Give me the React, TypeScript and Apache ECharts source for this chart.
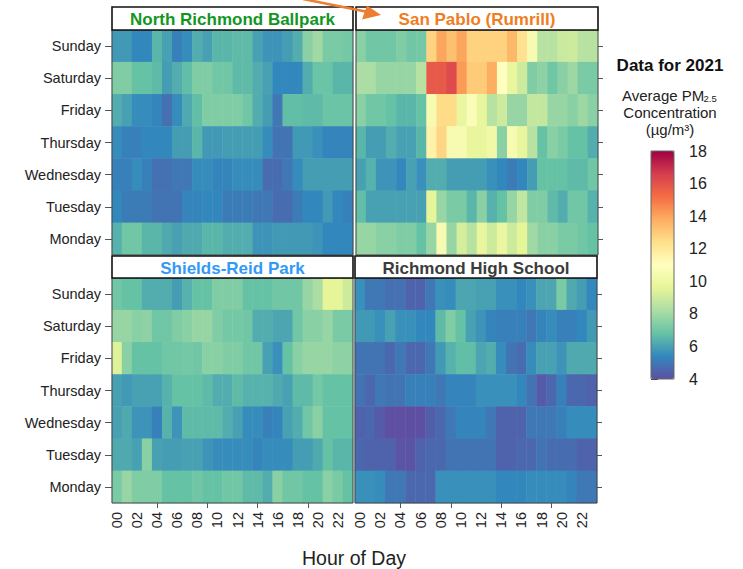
import React, { useEffect, useRef } from "react";
import * as echarts from "echarts";

const hours = ["00","01","02","03","04","05","06","07","08","09","10","11","12","13","14","15","16","17","18","19","20","21","22","23"];
// bottom-to-top order for the category y axis
const days = ["Monday","Tuesday","Wednesday","Thursday","Friday","Saturday","Sunday"];

// Rows are listed top-to-bottom as pictured: Sunday ... Monday
const northRichmond: number[][] = [
  [5.8,5.8,5.4,5.4,6.5,6.0,5.2,5.5,6.3,6.0,6.5,6.5,6.6,6.6,6.0,5.7,5.7,5.9,6.3,7.5,8.0,7.2,7.2,7.1],
  [7.3,7.3,6.8,6.8,6.6,5.9,6.3,6.7,7.3,7.3,7.0,7.0,6.6,6.6,6.3,6.0,5.4,5.4,5.4,6.3,6.9,6.9,6.5,6.5],
  [6.3,6.0,5.5,5.5,5.3,4.8,5.5,6.2,6.7,7.3,7.3,7.3,7.3,7.0,6.3,5.9,5.0,6.7,6.7,6.6,6.6,6.9,6.9,6.9],
  [5.5,5.2,5.2,5.4,5.4,5.4,5.9,5.9,6.5,5.8,5.8,5.9,5.9,5.9,5.9,5.5,4.9,4.9,5.8,5.8,5.6,5.3,5.3,5.3],
  [5.2,5.2,5.5,5.2,4.8,4.8,5.0,5.0,5.5,5.5,5.3,5.3,5.5,5.5,5.5,4.7,4.7,5.0,5.5,5.9,5.9,5.9,5.9,5.9],
  [5.4,5.1,5.1,5.1,4.9,4.9,4.9,5.3,5.3,5.4,5.4,5.1,5.1,5.1,5.0,5.0,4.7,4.7,5.1,5.4,5.4,5.8,5.4,5.2],
  [6.4,7.0,7.0,6.5,6.5,6.2,6.0,6.2,6.2,6.5,6.5,6.3,6.3,6.3,5.7,5.7,5.8,5.8,5.8,5.8,5.7,5.4,5.4,5.4],
];
const sanPablo: number[][] = [
  [7.5,7.0,7.0,7.0,7.3,7.0,7.1,12.8,14.0,13.3,14.0,12.8,12.8,12.8,12.8,13.5,12.3,10.5,8.5,8.5,8.9,9.0,8.5,8.5],
  [8.2,8.2,7.8,7.8,7.8,7.8,8.5,15.8,15.8,16.2,14.2,13.0,13.0,13.8,11.0,9.8,9.0,7.3,7.6,7.0,7.5,7.9,7.2,7.2],
  [7.5,7.0,7.0,6.8,6.5,6.5,6.8,10.5,12.5,12.5,9.9,10.7,9.8,8.5,9.0,7.8,7.8,8.8,8.8,7.8,7.8,7.5,7.9,7.5],
  [6.5,5.9,5.9,6.3,6.0,6.0,6.5,11.6,12.7,10.5,10.5,9.8,9.8,10.2,7.5,10.5,9.8,8.5,6.8,7.5,7.2,6.8,6.8,6.3],
  [6.0,6.4,5.7,5.7,5.4,6.0,5.6,6.3,6.3,5.9,5.9,5.9,5.9,5.6,5.4,5.1,5.4,5.9,6.8,6.8,6.8,6.6,6.6,7.0],
  [6.7,6.0,6.0,6.0,6.0,6.0,6.0,9.6,7.8,7.2,7.2,6.5,7.5,6.4,6.8,7.8,8.7,7.3,7.3,6.6,6.3,7.0,7.0,6.4],
  [7.8,7.8,7.5,7.5,7.3,7.3,6.8,7.8,10.5,7.8,9.2,8.5,9.8,9.0,9.9,9.0,9.6,8.0,7.5,7.5,7.2,7.2,7.0,6.8],
];
const shieldsReid: number[][] = [
  [7.0,6.8,6.8,6.3,6.3,6.3,5.9,6.4,6.8,6.8,7.3,7.3,7.3,6.8,6.8,6.8,7.0,7.0,7.0,7.8,8.2,9.6,9.6,9.0],
  [7.8,7.8,7.5,7.6,7.0,7.0,7.3,7.5,7.8,7.8,7.3,7.1,7.1,7.0,6.3,6.3,6.1,6.1,7.0,7.5,7.5,7.8,7.2,7.2],
  [9.4,7.5,6.8,6.8,6.8,7.0,7.0,7.1,7.0,7.5,7.5,7.3,7.3,7.0,7.0,6.0,5.6,6.8,7.5,7.8,7.8,7.8,7.6,7.6],
  [6.0,5.8,6.0,6.0,6.0,6.4,6.8,6.8,6.8,6.6,6.3,6.3,6.6,6.4,6.4,6.4,6.2,6.0,6.6,6.6,7.1,6.8,6.8,6.8],
  [6.0,6.2,5.7,5.7,5.2,6.4,5.7,6.6,6.6,6.6,6.6,6.3,6.0,5.5,5.5,5.2,5.3,6.0,6.3,7.0,7.5,6.8,6.8,6.8],
  [6.2,6.2,6.0,7.5,6.0,5.9,5.9,6.0,6.0,5.7,5.5,5.5,5.5,5.5,5.3,5.5,5.5,5.5,5.9,5.9,6.2,6.8,6.5,6.5],
  [7.2,7.8,7.3,7.3,7.3,6.8,6.8,6.8,7.0,6.8,6.8,7.0,7.0,6.6,6.6,6.3,7.5,7.0,7.0,6.8,6.8,7.5,7.2,6.8],
];
const richmondHigh: number[][] = [
  [5.6,5.0,5.0,4.8,4.8,4.5,4.5,5.0,5.6,5.5,6.1,6.1,6.0,6.0,5.6,5.6,5.4,5.6,6.1,6.1,7.2,6.2,5.9,5.4],
  [5.8,5.8,5.6,6.0,5.6,5.6,5.4,5.4,6.6,7.3,6.8,6.0,5.7,5.3,5.2,5.2,5.2,5.0,5.3,5.5,5.2,5.2,5.4,5.8],
  [4.9,4.9,4.9,4.6,5.0,4.6,4.6,5.0,5.8,6.4,6.7,6.7,6.1,6.3,5.5,4.9,4.7,5.5,6.0,6.0,5.7,6.2,6.2,6.2],
  [4.9,4.6,5.0,4.9,4.9,5.2,5.2,5.2,5.0,5.3,5.3,5.3,5.6,5.6,5.6,5.6,5.4,4.9,4.3,4.6,5.2,4.6,4.6,4.5],
  [4.5,4.6,4.3,4.0,4.0,4.0,4.0,4.4,4.6,5.0,5.3,5.3,5.3,5.0,4.5,4.5,4.5,5.0,5.0,5.0,5.2,5.5,5.5,5.5],
  [4.6,4.5,4.5,4.5,4.1,4.1,4.5,4.6,4.6,4.9,4.9,4.9,4.9,4.9,4.5,4.5,4.6,4.6,4.9,4.7,4.7,4.7,4.5,4.5],
  [5.6,5.6,5.5,5.0,5.0,4.6,4.6,4.6,5.6,5.6,5.6,5.6,5.6,5.6,5.4,5.4,5.4,5.5,5.5,5.5,5.5,5.3,5.0,5.0],
];

const panelTitles = ["North Richmond Ballpark", "San Pablo (Rumrill)", "Shields-Reid Park", "Richmond High School"];
const panelTitleColors = ["#13961f", "#ef7d22", "#3399f7", "#3c3c3c"];
const panelData = [northRichmond, sanPablo, shieldsReid, richmondHigh];

const spectralRev = ["#5e4fa2","#3288bd","#66c2a5","#abdda4","#e6f598","#ffffbf","#fee08b","#fdae61","#f46d43","#d53e4f","#9e0142"];

const FONT = "'Liberation Sans', Arial, sans-serif";

const grids = [
  { left: 112, top: 30, width: 241, height: 225 },
  { left: 356, top: 30, width: 242, height: 225 },
  { left: 112, top: 278, width: 241, height: 225 },
  { left: 355, top: 278, width: 242, height: 225 },
];

function toSeriesData(rows: number[][]) {
  const out: number[][] = [];
  rows.forEach((row, r) => {
    const dayIdx = 6 - r;
    row.forEach((v, h) => out.push([h, dayIdx, v]));
  });
  return out;
}

export default function App() {
  const ref = useRef<HTMLDivElement>(null);
  useEffect(() => {
    if (!ref.current) return;
    const chart = echarts.init(ref.current, undefined, { renderer: "svg" });

    const xAxes: any[] = grids.map((_, i) => {
      const bottom = i >= 2;
      return {
        type: "category",
        gridIndex: i,
        data: hours,
        boundaryGap: true,
        axisLine: { show: false },
        axisTick: bottom
          ? { show: true, alignWithLabel: true, interval: (idx: number) => idx % 5 === 4, length: 5, lineStyle: { color: "#555" } }
          : { show: false },
        axisLabel: bottom
          ? { show: true, interval: 1, rotate: 90, fontSize: 14.5, color: "#222", margin: 9, fontFamily: FONT }
          : { show: false },
        splitLine: { show: false },
      };
    });
    xAxes.push({ type: "value", gridIndex: 4, show: false, min: 0, max: 1 });

    const yAxes: any[] = grids.map((_, i) => {
      const left = i % 2 === 0;
      return {
        type: "category",
        gridIndex: i,
        data: days,
        position: left ? "left" : "right",
        axisLine: { show: false },
        axisTick: { show: true, alignWithLabel: true, length: left ? 7 : 5, lineStyle: { color: "#555" } },
        axisLabel: left
          ? { show: true, fontSize: 14.5, color: "#222", margin: 11, fontFamily: FONT }
          : { show: false },
        splitLine: { show: false },
      };
    });
    yAxes.push({
      type: "value",
      gridIndex: 4,
      min: 4,
      max: 18,
      interval: 2,
      position: "right",
      axisLine: { show: false },
      axisTick: { show: true, length: 7, lineStyle: { color: "#333" } },
      axisLabel: { fontSize: 16, color: "#222", margin: 15, fontFamily: FONT },
      splitLine: { show: false },
    });

    const series: any[] = panelData.map((rows, i) => ({
      type: "heatmap",
      xAxisIndex: i,
      yAxisIndex: i,
      data: toSeriesData(rows),
      itemStyle: { borderWidth: 0 },
      emphasis: { disabled: true },
      progressive: 0,
    }));
    series.push({ type: "line", xAxisIndex: 4, yAxisIndex: 4, data: [], silent: true });

    const graphics: any[] = [];
    const boxes = [
      { x: 112, y: 7, w: 241, h: 23 },
      { x: 356, y: 7, w: 242, h: 23 },
      { x: 112, y: 256, w: 241, h: 22 },
      { x: 355, y: 256, w: 242, h: 22 },
    ];
    boxes.forEach((b, i) => {
      graphics.push({
        type: "rect",
        shape: { x: b.x, y: b.y, width: b.w, height: b.h },
        style: { fill: "#fff", stroke: "#111", lineWidth: 1.6 },
        z: 10,
      });
      graphics.push({
        type: "text",
        x: b.x + b.w / 2,
        y: b.y + b.h / 2 + 1,
        style: {
          text: panelTitles[i],
          fill: panelTitleColors[i],
          font: `bold 17px ${FONT}`,
          textAlign: "center",
          textVerticalAlign: "middle",
        },
        z: 11,
      });
    });
    grids.forEach((g) => {
      graphics.push({
        type: "rect",
        shape: { x: g.left, y: g.top, width: g.width, height: g.height },
        style: { fill: "none", stroke: "#444", lineWidth: 1 },
        z: 9,
      });
    });
    // colorbar outline
    graphics.push({
      type: "rect",
      shape: { x: 651, y: 151, width: 23, height: 228 },
      style: { fill: "none", stroke: "#666", lineWidth: 1 },
      z: 9,
    });
    // arrow
    graphics.push({
      type: "line",
      shape: { x1: 303, y1: -1, x2: 368, y2: 12 },
      style: { stroke: "#ed7d31", lineWidth: 2.5 },
      z: 20,
    });
    graphics.push({
      type: "polygon",
      shape: { points: [[381, 15], [362, 19.5], [367, 5.5]] },
      style: { fill: "#ed7d31" },
      z: 20,
    });
    // legend texts
    graphics.push({
      type: "text", x: 670, y: 65,
      style: { text: "Data for 2021", font: `bold 17px ${FONT}`, fill: "#111", textAlign: "center", textVerticalAlign: "middle" },
    });
    graphics.push({
      type: "text", x: 622, y: 95,
      style: { text: "Average PM", font: `15px ${FONT}`, fill: "#222", textAlign: "left", textVerticalAlign: "middle" },
    });
    graphics.push({
      type: "text", x: 703.5, y: 98.5,
      style: { text: "2.5", font: `9.5px ${FONT}`, fill: "#222", textAlign: "left", textVerticalAlign: "middle" },
    });
    graphics.push({
      type: "text", x: 670, y: 112.5,
      style: { text: "Concentration", font: `15px ${FONT}`, fill: "#222", textAlign: "center", textVerticalAlign: "middle" },
    });
    graphics.push({
      type: "text", x: 670, y: 129.5,
      style: { text: "(µg/m³)", font: `15px ${FONT}`, fill: "#222", textAlign: "center", textVerticalAlign: "middle" },
    });
    graphics.push({
      type: "text", x: 354, y: 558,
      style: { text: "Hour of Day", font: `19.5px ${FONT}`, fill: "#222", textAlign: "center", textVerticalAlign: "middle" },
    });

    chart.setOption({
      animation: false,
      backgroundColor: "#fff",
      textStyle: { fontFamily: FONT },
      grid: [...grids, { left: 651, top: 151, width: 23, height: 228 }],
      xAxis: xAxes,
      yAxis: yAxes,
      visualMap: {
        type: "continuous",
        min: 4,
        max: 18,
        seriesIndex: [0, 1, 2, 3],
        calculable: false,
        hoverLink: false,
        orient: "vertical",
        left: 651,
        top: 151,
        itemWidth: 23,
        itemHeight: 228,
        padding: 0,
        inRange: { color: spectralRev },
      },
      series,
      graphic: graphics,
    });
    return () => chart.dispose();
  }, []);
  return (
    <div
      ref={ref}
      style={{ position: "fixed", left: 0, top: 0, width: 743, height: 569, background: "#fff" }}
    />
  );
}
